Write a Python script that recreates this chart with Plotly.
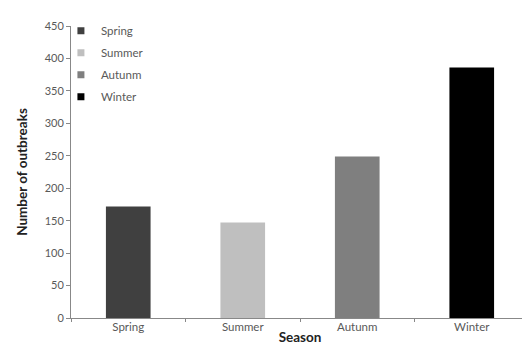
import plotly.graph_objects as go

seasons = ["Spring", "Summer", "Autumn", "Winter"]
tick_text = ["Spring", "Summer", "Autunm", "Winter"]
outbreaks = [172, 147, 249, 386]
colors = ["#404040", "#bfbfbf", "#7f7f7f", "#000000"]

FONT = "Lato, 'Open Sans', sans-serif"
AXIS = "#888888"
TXT = "#595959"

fig = go.Figure()

# bars (one trace per season so each keeps its own colour)
for s, v, c in zip(seasons, outbreaks, colors):
    fig.add_trace(
        go.Bar(
            x=[s],
            y=[v],
            width=0.39,
            marker=dict(color=c, line=dict(width=0)),
            showlegend=False,
        )
    )

# legend entries with small square swatches
for lbl, c in zip(tick_text, colors):
    fig.add_trace(
        go.Scatter(
            x=[None],
            y=[None],
            mode="markers",
            marker=dict(symbol="square", size=7, color=c),
            name=lbl,
            legendgroup=lbl,
        )
    )

fig.update_layout(
    width=530,
    height=345,
    paper_bgcolor="white",
    plot_bgcolor="white",
    font=dict(family=FONT, color=TXT, size=11.5),
    margin=dict(l=63, r=9, t=17, b=35),
    xaxis=dict(
        categoryorder="array",
        categoryarray=seasons,
        tickvals=seasons,
        ticktext=tick_text,
        tickson="boundaries",
        ticks="outside",
        ticklen=3,
        ticklabelstandoff=-2,
        tickcolor=AXIS,
        showline=True,
        linecolor=AXIS,
        linewidth=1,
        showgrid=False,
        zeroline=False,
        automargin=False,
        tickfont=dict(size=11.5, color=TXT),
        title=dict(
            text="<b>Season</b>",
            font=dict(size=13.5, color="#222222"),
            standoff=0,
        ),
    ),
    yaxis=dict(
        range=[0, 450],
        dtick=50,
        ticks="outside",
        ticklen=4,
        tickcolor=AXIS,
        showline=True,
        linecolor=AXIS,
        linewidth=1,
        showgrid=False,
        zeroline=False,
        automargin=False,
        tickfont=dict(size=11, color=TXT),
        title=dict(
            text="<b>Number of outbreaks</b>",
            font=dict(size=13.5, color="#222222"),
            standoff=13,
        ),
    ),
    legend=dict(
        x=-0.022,
        y=1.03,
        xanchor="left",
        yanchor="top",
        bgcolor="rgba(255,255,255,0)",
        font=dict(size=11.5, color=TXT),
        tracegroupgap=3,
        itemwidth=30,
    ),
)

fig.write_html("out.html")
